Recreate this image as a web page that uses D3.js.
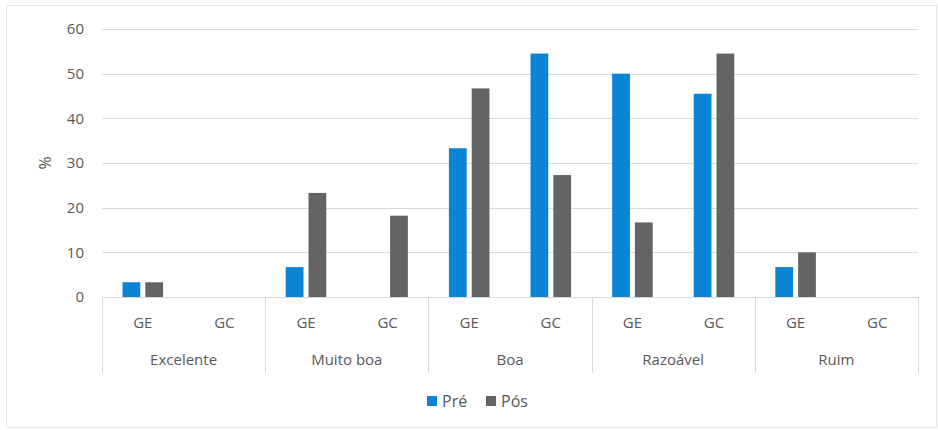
<!DOCTYPE html>
<html>
<head>
<meta charset="utf-8">
<script src="https://cdn.jsdelivr.net/npm/d3@7"></script>
<style>
  body { margin: 0; background: #fff; }
  text { font-family: "Open Sans", "Noto Sans", sans-serif; fill: #595959; }
</style>
</head>
<body>
<script>
var width = 938;
var height = 430;

// data
var categories = ["Excelente", "Muito boa", "Boa", "Razoável", "Ruim"];
var groups = ["GE", "GC"];
var series = ["Pré", "Pós"];
var preValues = [3.3, 0, 6.7, 0, 33.3, 54.5, 50, 45.5, 6.7, 0];
var posValues = [3.3, 0, 23.3, 18.2, 46.7, 27.3, 16.7, 54.5, 10, 0];
var yTicks = [0, 10, 20, 30, 40, 50, 60];
var colors = ["#0a84d4", "#646464"];

var margin = { top: 29, right: 20, bottom: 133, left: 102 };
var plotW = width - margin.left - margin.right;
var plotH = height - margin.top - margin.bottom;

var svg = d3.select("body").append("svg")
    .attr("width", width)
    .attr("height", height);

// outer frame
svg.append("rect")
    .attr("x", 6.5).attr("y", 5.5)
    .attr("width", 930).attr("height", 422)
    .attr("fill", "none")
    .attr("stroke", "#e6e6e6");

var g = svg.append("g").attr("transform", "translate(" + margin.left + "," + margin.top + ")");

// build rows
var rows = [];
categories.forEach(function(c, i) {
    groups.forEach(function(gr, j) {
        rows.push({ key: c + "|" + gr, cat: c, grp: gr, vals: [preValues[i * 2 + j], posValues[i * 2 + j]] });
    });
});

var xCat = d3.scaleBand().domain(categories).range([0, plotW]);
var x0 = d3.scaleBand().domain(rows.map(function(d) { return d.key; })).range([0, plotW]);
var x1 = d3.scaleBand().domain(series).range([0, x0.bandwidth()]).paddingInner(0.22).paddingOuter(0.9);
var y = d3.scaleLinear().domain([0, 60]).range([plotH, 0]);

// gridlines
g.selectAll(".grid")
    .data(yTicks)
    .enter().append("line")
    .attr("x1", 0).attr("x2", plotW)
    .attr("y1", function(d) { return Math.round(y(d)) + 0.5; })
    .attr("y2", function(d) { return Math.round(y(d)) + 0.5; })
    .attr("stroke", "#d9d9d9");

// y tick labels
g.selectAll(".ytick")
    .data(yTicks)
    .enter().append("text")
    .attr("x", -18)
    .attr("y", function(d) { return y(d); })
    .attr("dy", "0.35em")
    .attr("text-anchor", "end")
    .style("font-size", "15px")
    .text(function(d) { return d; });

// y label
svg.append("text")
    .attr("transform", "translate(51,163) rotate(-90)")
    .attr("text-anchor", "middle")
    .style("font-size", "16px")
    .text("%");

// bars
var rowG = g.selectAll(".row")
    .data(rows)
    .enter().append("g")
    .attr("transform", function(d) { return "translate(" + x0(d.key) + ",0)"; });

rowG.selectAll("rect")
    .data(function(d) { return d.vals.map(function(v, k) { return { s: series[k], v: v, k: k }; }); })
    .enter().append("rect")
    .attr("x", function(d) { return x1(d.s); })
    .attr("width", x1.bandwidth())
    .attr("y", function(d) { return y(d.v); })
    .attr("height", function(d) { return plotH - y(d.v); })
    .attr("fill", function(d) { return colors[d.k]; });

// category dividers
var divs = categories.map(function(c) { return xCat(c); }).concat([plotW]);
g.selectAll(".div")
    .data(divs)
    .enter().append("line")
    .attr("x1", function(d) { return Math.round(d) + 0.5; })
    .attr("x2", function(d) { return Math.round(d) + 0.5; })
    .attr("y1", plotH)
    .attr("y2", plotH + 76)
    .attr("stroke", "#d9d9d9");

// group labels
g.selectAll(".glabel")
    .data(rows)
    .enter().append("text")
    .attr("x", function(d) { return x0(d.key) + x0.bandwidth() / 2; })
    .attr("y", plotH + 31)
    .attr("text-anchor", "middle")
    .style("font-size", "15px")
    .text(function(d) { return d.grp; });

// category labels
g.selectAll(".clabel")
    .data(categories)
    .enter().append("text")
    .attr("x", function(d) { return xCat(d) + xCat.bandwidth() / 2; })
    .attr("y", plotH + 68)
    .attr("text-anchor", "middle")
    .style("font-size", "15px")
    .text(function(d) { return d; });

// legend
var legend = svg.append("g").attr("transform", "translate(427,401)");
var legItems = legend.selectAll("g")
    .data(series)
    .enter().append("g")
    .attr("transform", function(d, i) { return "translate(" + (i * 59) + ",0)"; });
legItems.append("rect")
    .attr("x", 0).attr("y", -5)
    .attr("width", 10).attr("height", 10)
    .attr("fill", function(d, i) { return colors[i]; });
legItems.append("text")
    .attr("x", 15)
    .attr("dy", "0.35em")
    .style("font-size", "16px")
    .text(function(d) { return d; });
</script>
</body>
</html>
